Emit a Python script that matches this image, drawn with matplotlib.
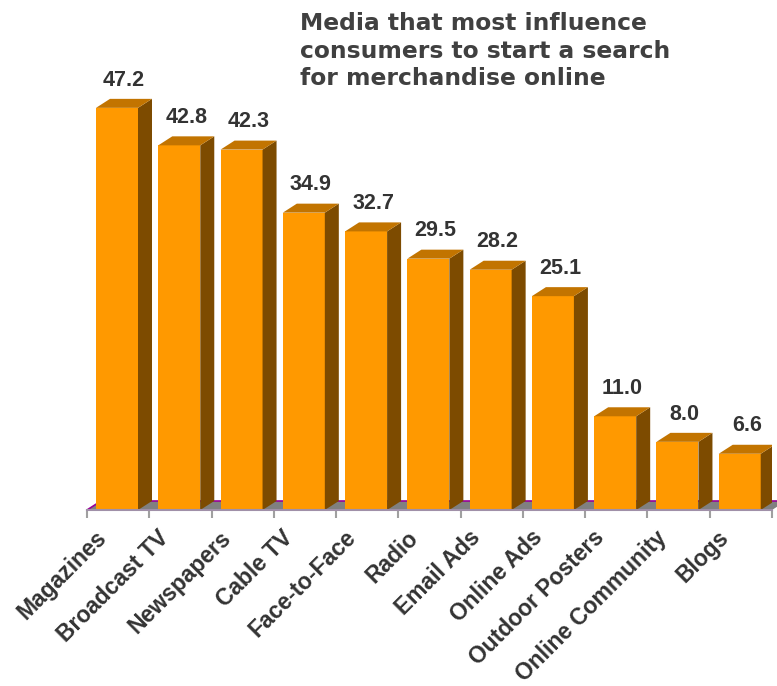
import matplotlib
matplotlib.use("Agg")
import matplotlib.pyplot as plt
from matplotlib.patches import Polygon, Rectangle

categories = ["Magazines", "Broadcast TV", "Newspapers", "Cable TV", "Face-to-Face",
              "Radio", "Email Ads", "Online Ads", "Outdoor Posters",
              "Online Community", "Blogs"]
values = [47.2, 42.8, 42.3, 34.9, 32.7, 29.5, 28.2, 25.1, 11.0, 8.0, 6.6]
title = "Media that most influence\nconsumers to start a search\nfor merchandise online"

plt.rcParams['font.family'] = ['Liberation Sans', 'DejaVu Sans']

W, H = 777, 686
fig = plt.figure(figsize=(W / 100, H / 100), dpi=100)
ax_left, ax_right = 87, 772
ax_bottom_px = 510
ymax = 60.0
px_per_unit = 8.52
ax_h = ymax * px_per_unit
ax = fig.add_axes([ax_left / W, (H - ax_bottom_px) / H, (ax_right - ax_left) / W, ax_h / H])
n = len(categories)
ax.set_xlim(0, n)
ax.set_ylim(0, ymax)

cat_px = (ax_right - ax_left) / n
off = 9 / cat_px
bw = 42 / cat_px
dx = 14 / cat_px
dy = 9 / px_per_unit

front_c = "#FF9900"
top_c = "#C27400"
side_c = "#7D4B00"

# floor
floor = Polygon([(0, 0), (n, 0), (n + dx, dy), (dx, dy)], closed=True,
                facecolor="#808080", edgecolor="none", clip_on=False, zorder=1)
ax.add_patch(floor)
ax.plot([0, dx, n + dx], [0, dy, dy], color="#990099", lw=1.2, clip_on=False, zorder=1.5)

for i, v in enumerate(values):
    x0 = i + off
    x1 = x0 + bw
    ax.add_patch(Rectangle((x0, 0), bw, v, facecolor=front_c, edgecolor="none", zorder=3))
    ax.add_patch(Polygon([(x1, 0), (x1 + dx, dy), (x1 + dx, v + dy), (x1, v)],
                         closed=True, facecolor=side_c, edgecolor="none", zorder=3))
    ax.add_patch(Polygon([(x0, v), (x1, v), (x1 + dx, v + dy), (x0 + dx, v + dy)],
                         closed=True, facecolor=top_c, edgecolor="none", zorder=3))
    ax.annotate(f"{v:.1f}", xy=(x0 + bw / 2 + dx / 2, v + dy), xytext=(0, 6),
                textcoords="offset points", ha="center", va="bottom",
                fontsize=15.5, fontweight="bold", color="#333333", zorder=4)
    ax.annotate(categories[i], xy=(i + 0.5, 0), xytext=(-11, -17.5),
                textcoords="offset points", rotation=45, rotation_mode="anchor",
                ha="right", va="center", fontsize=16.5, fontweight="bold",
                color="#333333", annotation_clip=False)

for s in ["top", "right", "left"]:
    ax.spines[s].set_visible(False)
ax.spines["bottom"].set_color("#A090A8")
ax.spines["bottom"].set_linewidth(1.5)
ax.spines["bottom"].set_zorder(5)
ax.set_xticks(range(n + 1))
ax.set_xticklabels([])
ax.tick_params(axis="x", length=6, width=1.5, color="#A0A0A0", direction="out")
ax.set_yticks([])

fig.text(300 / W, 1 - 12 / H, title, ha="left", va="top", fontsize=16.8,
         fontweight="bold", color="#404040", linespacing=1.25,
         family=["DejaVu Sans"])

fig.savefig("out.png", dpi=100)
